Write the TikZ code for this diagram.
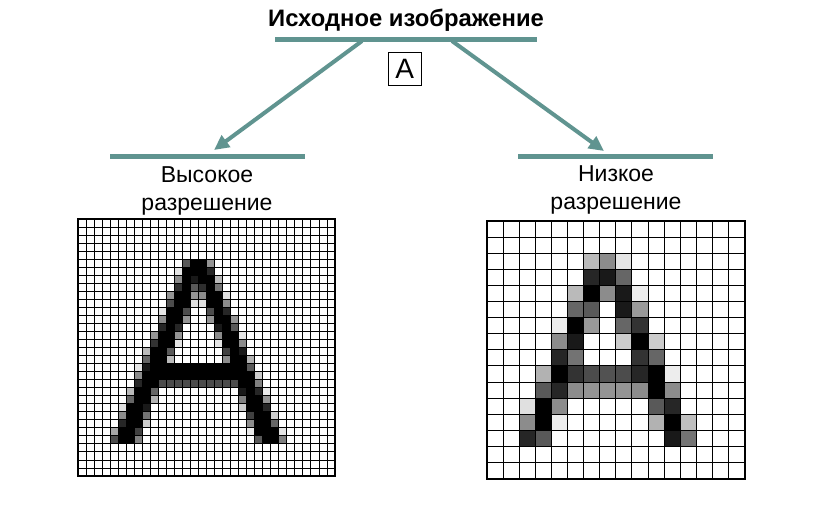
\documentclass[tikz,border=0pt]{standalone}
\usepackage{fontspec}
\setmainfont{Liberation Sans}
\usetikzlibrary{arrows.meta}
\definecolor{barcol}{RGB}{96,148,144}

\begin{document}
\begin{tikzpicture}[x=1pt,y=-1pt,
  bar/.style={barcol,line width=5pt},
  link/.style={barcol,line width=4pt,-{Triangle[length=15pt,width=14pt]}},
  lbl/.style={font=\fontsize{23}{27}\selectfont,anchor=base}]
\useasboundingbox[fill=white] (0,0) rectangle (832,529);

% title and source letter
\node[font=\bfseries\fontsize{23.8}{27}\selectfont,anchor=base] (title) at (406,27) {Исходное изображение};
\coordinate (srcBarL) at (275,40);
\coordinate (srcBarR) at (537,40);
\draw[bar] (srcBarL) -- (srcBarR);
\node[draw,line width=1pt,minimum size=33pt,inner sep=0pt,font=\fontsize{28}{30}\selectfont] (src) at (404.7,68.7) {A};

% branches
\coordinate (forkL) at (362,41);
\coordinate (forkR) at (452,41);
\coordinate (hiTip) at (214,150);
\coordinate (loTip) at (604,151);
\draw[link] (forkL) -- (hiTip);
\draw[link] (forkR) -- (loTip);

\coordinate (hiBarL) at (110,157);
\coordinate (hiBarR) at (305,157);
\coordinate (loBarL) at (518,157);
\coordinate (loBarR) at (713,157);
\draw[bar] (hiBarL) -- (hiBarR);
\draw[bar] (loBarL) -- (loBarR);

\node[lbl] (hiTop) at (207,183) {Высокое};
\node[lbl] (hiBot) at (207,211) {разрешение};
\node[lbl] (loTop) at (616,182) {Низкое};
\node[lbl] (loBot) at (616,210) {разрешение};

% high resolution, 32 x 32
\begin{scope}[shift={(78,219)},x=8.03pt,y=-8.03pt]
\foreach \r/\a/\b in {5/14/15,6/13/15,7/13/13,7/15/16,8/13/13,8/16/16,
    9/12/13,9/16/17,10/12/13,10/16/17,11/11/12,11/17/17,12/11/12,12/17/18,
    13/11/11,13/18/18,14/10/11,14/18/19,15/10/11,15/18/19,16/9/10,16/19/19,
    17/9/10,17/19/20,18/9/20,19/8/21,20/8/9,20/20/21,21/7/8,21/21/21,
    22/7/8,22/21/22,23/6/7,23/21/22,24/6/7,24/22/23,25/6/7,25/22/23,
    26/5/6,26/22/24,27/5/6,27/23/24}
  \fill (\a,\r) rectangle (\b+1,\r+1);
\foreach \r/\c/\g in {5/13/65,5/16/42,6/12/10,6/16/85,
    7/12/45,7/14/90,7/17/27,8/12/82,8/14/65,8/15/82,8/17/55,
    9/11/42,9/14/42,9/15/45,9/18/12,10/11/70,10/14/12,10/15/12,10/18/45,
    11/10/10,11/13/70,11/16/70,11/18/85,12/10/45,12/13/42,12/16/42,12/19/42,
    13/10/85,13/12/85,13/17/90,13/19/65,14/9/42,14/12/42,14/17/45,14/20/10,
    15/9/80,15/12/10,15/17/10,15/20/45,16/8/27,16/11/65,16/18/75,16/20/90,
    17/8/60,17/11/27,17/18/45,17/21/30,18/7/10,18/8/90,18/21/65,
    19/7/45,19/22/20,20/7/85,20/22/50,
    21/6/27,21/9/60,21/20/90,21/22/85,21/23/8,22/6/60,22/9/30,22/20/50,22/23/42,
    23/5/12,23/8/90,23/20/20,23/23/85,24/5/45,24/8/55,24/21/75,24/24/20,
    25/5/85,25/8/20,25/21/45,25/24/60,26/4/35,26/7/75,26/21/8,26/25/10,
    27/4/70,27/7/50,27/22/65,27/25/50}
  \fill[black!\g] (\c,\r) rectangle (\c+1,\r+1);
\foreach \c in {10,...,19}
  \fill[black!70] (\c,20) rectangle (\c+1,21);
\foreach \i in {0,...,32} {
  \draw[line width=0.8pt] (\i,0) -- (\i,32);
  \draw[line width=0.8pt] (0,\i) -- (32,\i);
}
\draw[line width=1.8pt] (0,0) rectangle (32,32);
\end{scope}

% low resolution, 16 x 16
\begin{scope}[shift={(487,221)},x=16.1pt,y=-16.1pt]
\foreach \r/\c/\g in {2/6/27,2/7/45,2/8/10,
    3/6/85,3/7/90,3/8/60,
    4/5/27,4/6/100,4/7/45,4/8/90,4/9/7,
    5/5/60,5/6/65,5/8/90,5/9/40,
    6/4/7,6/5/100,6/6/40,6/8/60,6/9/80,
    7/4/45,7/5/90,7/8/20,7/9/100,7/10/20,
    8/4/85,8/5/55,8/9/80,8/10/60,
    9/3/30,9/4/100,9/5/80,9/6/70,9/7/68,9/8/70,9/9/85,9/10/100,9/11/7,
    10/3/65,10/4/85,10/5/45,10/6/42,10/7/42,10/8/42,10/9/45,10/10/100,10/11/45,
    11/2/12,11/3/100,11/4/45,11/10/65,11/11/85,
    12/2/45,12/3/100,12/4/7,12/10/30,12/11/100,12/12/25,
    13/2/85,13/3/65,13/11/90,13/12/55}
  \fill[black!\g] (\c,\r) rectangle (\c+1,\r+1);
\foreach \i in {0,...,16} {
  \draw[line width=1pt] (\i,0) -- (\i,16);
  \draw[line width=1pt] (0,\i) -- (16,\i);
}
\draw[line width=2.2pt] (0,0) rectangle (16,16);
\end{scope}
\end{tikzpicture}
\end{document}
